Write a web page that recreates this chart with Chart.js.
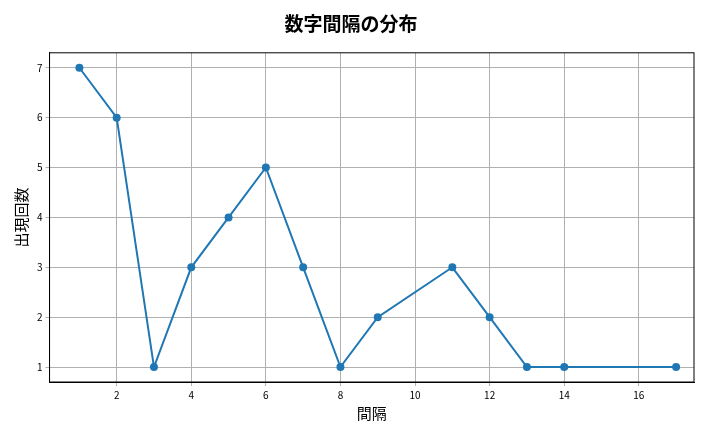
<!DOCTYPE html>
<html>
<head>
<meta charset="utf-8">
<script src="https://cdn.jsdelivr.net/npm/chart.js@4"></script>
<style>
  body { margin: 0; background: #fff; }
  #wrap { width: 720px; height: 432px; }
</style>
</head>
<body>
<div id="wrap"><canvas id="chart"></canvas></div>
<script>
// 間隔ごとの出現回数
const gaps = [1, 2, 3, 4, 5, 6, 7, 8, 9, 11, 12, 13, 14, 17];
const counts = [7, 6, 1, 3, 4, 5, 3, 1, 2, 3, 2, 1, 1, 1];
const xTicks = [2, 4, 6, 8, 10, 12, 14, 16];
const yTicks = [1, 2, 3, 4, 5, 6, 7];

const font = "'Noto Sans CJK JP', 'DejaVu Sans', sans-serif";
const blue = '#1f77b4';

// matplotlib-style frame around the plot area
const frame = {
    id: 'frame',
    afterDraw(chart) {
        const a = chart.chartArea, ctx = chart.ctx;
        ctx.save();
        ctx.strokeStyle = '#000';
        ctx.lineWidth = 1;
        ctx.strokeRect(a.left, a.top, a.right - a.left, a.bottom - a.top);
        ctx.restore();
    }
};

new Chart(document.getElementById('chart'), {
    type: 'line',
    data: {
        datasets: [{
            data: gaps.map((g, i) => ({ x: g, y: counts[i] })),
            borderColor: blue,
            backgroundColor: blue,
            borderWidth: 2,
            pointRadius: 3,
            pointHoverRadius: 3,
            tension: 0
        }]
    },
    options: {
        responsive: true,
        maintainAspectRatio: false,
        animation: false,
        layout: { padding: { left: 8, right: 26, top: 4, bottom: 10 } },
        plugins: {
            legend: { display: false },
            tooltip: { enabled: false },
            title: {
                display: true,
                text: '数字間隔の分布',
                color: '#000',
                font: { family: font, size: 19, weight: 'bold' },
                padding: { top: 8, bottom: 18 }
            }
        },
        scales: {
            x: {
                type: 'linear',
                min: 0.2,
                max: 17.48,
                afterBuildTicks: axis => { axis.ticks = xTicks.map(v => ({ value: v })); },
                ticks: { color: '#000', font: { family: font, size: 10 }, maxRotation: 0 },
                grid: { color: '#b0b0b0', drawTicks: true, tickLength: 4 },
                border: { color: '#000' },
                title: { display: true, text: '間隔', color: '#000', font: { family: font, size: 15 }, padding: 0 }
            },
            y: {
                min: 0.7,
                max: 7.3,
                afterBuildTicks: axis => { axis.ticks = yTicks.map(v => ({ value: v })); },
                ticks: { color: '#000', font: { family: font, size: 10 } },
                grid: { color: '#b0b0b0', drawTicks: true, tickLength: 4 },
                border: { color: '#000' },
                title: { display: true, text: '出現回数', color: '#000', font: { family: font, size: 15 }, padding: 4 }
            }
        }
    },
    plugins: [frame]
});
</script>
</body>
</html>
